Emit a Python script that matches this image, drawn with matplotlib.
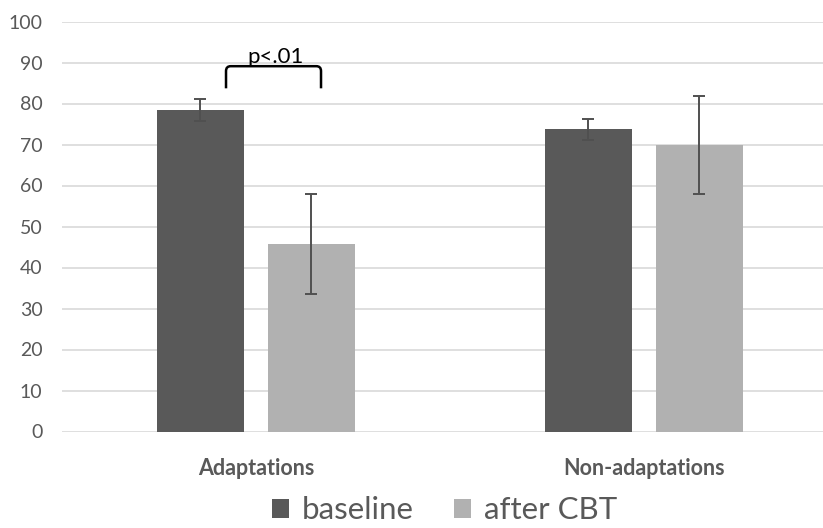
import matplotlib
matplotlib.use("Agg")
import matplotlib.pyplot as plt
from matplotlib.path import Path
from matplotlib.patches import PathPatch
import numpy as np

# data
categories = ["Adaptations", "Non-adaptations"]
series_names = ["baseline", "after CBT"]
baseline = [78.4, 73.7]
baseline_err = [2.6, 2.6]
after_cbt = [45.7, 69.9]
after_cbt_err = [12.2, 11.9]
y_ticks = [0, 10, 20, 30, 40, 50, 60, 70, 80, 90, 100]

colors = ["#595959", "#b1b1b1"]
text_grey = "#595959"

plt.rcParams["font.family"] = ["Lato", "DejaVu Sans"]

fig = plt.figure(figsize=(8.23, 5.28), dpi=100)
ax = fig.add_axes([62 / 823, 96.5 / 528, 761 / 823, 410 / 528])

x = np.arange(len(categories))
width = 0.224
offset = 0.143

ax.bar(x - offset, baseline, width, color=colors[0], label=series_names[0], zorder=2)
ax.bar(x + offset, after_cbt, width, color=colors[1], label=series_names[1], zorder=2)
ax.errorbar(x - offset, baseline, yerr=baseline_err, fmt="none", ecolor="#505050",
            elinewidth=1.4, capsize=4, capthick=1.4, zorder=3)
ax.errorbar(x + offset, after_cbt, yerr=after_cbt_err, fmt="none", ecolor="#505050",
            elinewidth=1.4, capsize=4, capthick=1.4, zorder=3)

ax.set_ylim(0, 100)
ax.set_xlim(-0.5, 1.4626)
ax.set_yticks(y_ticks)
ax.yaxis.grid(True, color="#d9d9d9", linewidth=1.2, zorder=0)
ax.set_axisbelow(True)
for s in ax.spines.values():
    s.set_visible(False)
ax.tick_params(axis="both", length=0)
ax.tick_params(axis="y", labelsize=14, labelcolor=text_grey, pad=14)
ax.set_yticklabels([str(t) for t in y_ticks], ha="right")
ax.set_xticks(x)
ax.set_xticklabels(categories, fontsize=15.5, fontweight="bold", color=text_grey)
ax.tick_params(axis="x", pad=19)

# significance bracket over the Adaptations pair, slightly rounded corners
bx0, bx1 = -0.077, 0.168
by0, by1 = 83.7, 89.1
rx, ry = 0.012, 1.2
verts = [(bx0, by0), (bx0, by1 - ry), (bx0, by1), (bx0 + rx, by1),
         (bx1 - rx, by1), (bx1, by1), (bx1, by1 - ry), (bx1, by0)]
codes = [Path.MOVETO, Path.LINETO, Path.CURVE3, Path.CURVE3,
         Path.LINETO, Path.CURVE3, Path.CURVE3, Path.LINETO]
ax.add_patch(PathPatch(Path(verts, codes), fill=False, edgecolor="black", lw=1.8, zorder=4))
ax.text((bx0 + bx1) / 2 + 0.005, by1 - 0.3, "p<.01", ha="center", va="bottom",
        fontsize=16, color="black")

leg = fig.legend(loc="lower center", bbox_to_anchor=(0.54, -0.046), ncol=2, frameon=False,
                 fontsize=22.5, handlelength=0.55, handleheight=0.55, handletextpad=0.4,
                 columnspacing=1.3)
for t in leg.get_texts():
    t.set_color(text_grey)

fig.savefig("out.png", dpi=100)
